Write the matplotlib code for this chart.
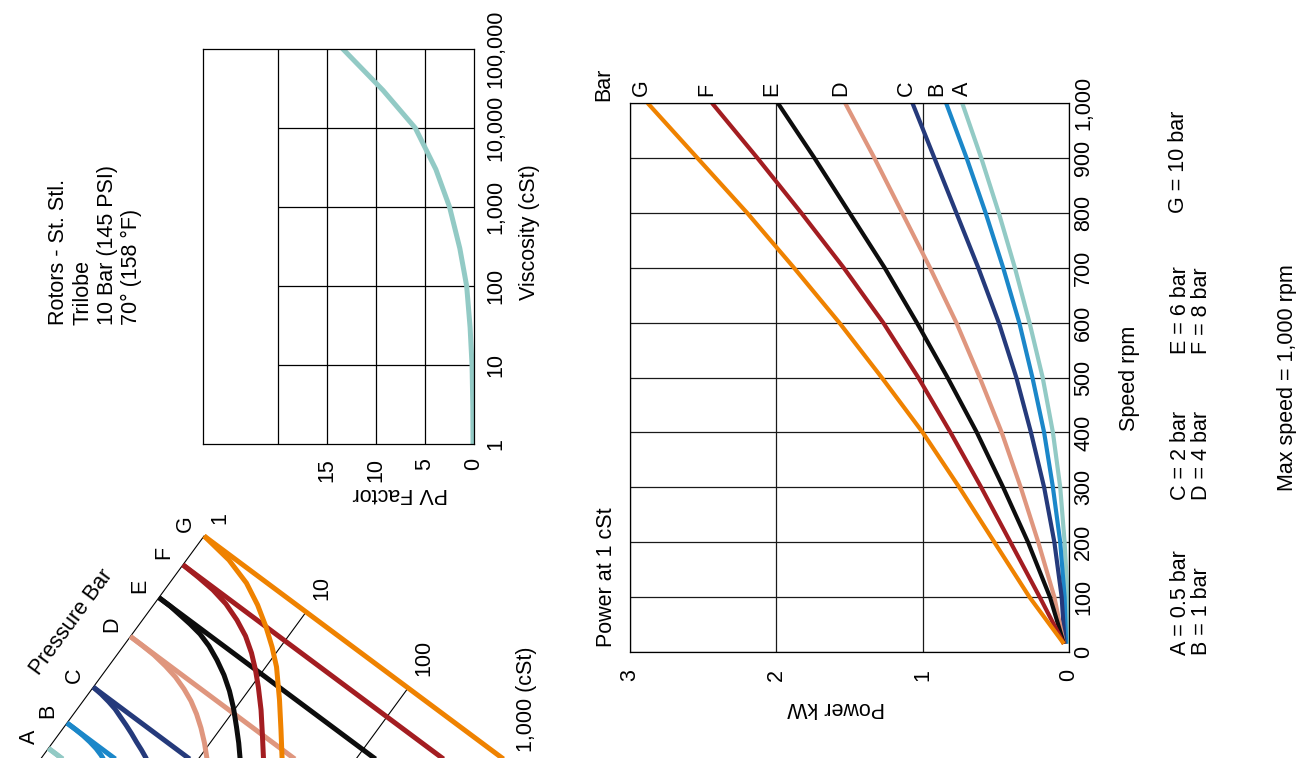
import numpy as np
import matplotlib.pyplot as plt
from matplotlib.transforms import Affine2D
from matplotlib.ticker import NullLocator

plt.rcParams['font.family'] = ['Liberation Sans', 'DejaVu Sans']
plt.rcParams['font.size'] = 15.5

W, H = 1296, 758

# --- series: pressure classes ---
letters = ['A', 'B', 'C', 'D', 'E', 'F', 'G']
pressure_bar = [0.5, 1, 2, 4, 6, 8, 10]
colors = ['#92cac5', '#1b87c9', '#253a7b', '#df967e', '#0d0d0d', '#a31d21', '#ef8200']

# --- power at 1 cSt (kW) vs speed (rpm) ---
speed = [15, 100, 200, 300, 400, 500, 600, 700, 800, 900, 1000]
power_a = [0.01, 0.01, 0.03, 0.06, 0.11, 0.18, 0.27, 0.37, 0.48, 0.60, 0.73]
power_b = [0.02, 0.03, 0.06, 0.11, 0.17, 0.25, 0.34, 0.45, 0.57, 0.70, 0.84]
power_c = [0.03, 0.05, 0.10, 0.17, 0.26, 0.36, 0.48, 0.62, 0.77, 0.92, 1.07]
power_d = [0.035, 0.10, 0.21, 0.33, 0.46, 0.61, 0.77, 0.95, 1.14, 1.33, 1.53]
power_e = [0.035, 0.13, 0.28, 0.45, 0.63, 0.83, 1.04, 1.26, 1.50, 1.74, 1.99]
power_f = [0.035, 0.20, 0.40, 0.60, 0.81, 1.03, 1.27, 1.54, 1.83, 2.13, 2.44]
power_g = [0.035, 0.27, 0.51, 0.75, 1.00, 1.28, 1.57, 1.88, 2.20, 2.54, 2.88]
power = [power_a, power_b, power_c, power_d, power_e, power_f, power_g]

# --- PV factor vs viscosity ---
pv_visc = [1, 3, 10, 30, 100, 300, 1000, 3000, 10000, 30000, 100000]
pv_factor = [0.1, 0.12, 0.2, 0.4, 0.75, 1.45, 2.5, 3.9, 6.0, 9.3, 13.4]
visc_ticks = [1, 10, 100, 1000, 10000, 100000]
visc_labels = ['1', '10', '100', '1,000', '10,000', '100,000']

# --- pressure / viscosity nomogram curves (cSt, bar) ---
curve_visc = [[1, 1.19, 1.39, 1.96],
              [1, 1.20, 1.44, 1.71, 2.01, 2.31, 2.55, 3.95],
              [1, 1.21, 1.46, 1.74, 2.05, 2.42, 2.87, 3.38, 3.96, 4.61, 7.40],
              [1, 1.30, 1.72, 2.29, 2.98, 3.84, 4.83, 6.02, 7.46, 9.22, 11.2, 16.3],
              [1, 1.29, 1.64, 2.09, 2.69, 3.49, 4.55, 5.92, 7.61, 9.68, 12.4, 15.2, 18.2, 26.2],
              [1, 1.42, 2.03, 2.85, 3.97, 5.34, 6.99, 8.89, 11.1, 14.8, 19.7, 25.6, 36.6],
              [1, 1.86, 3.07, 4.57, 6.54, 8.85, 11.7, 17.4, 24.5, 33.6, 48]]
curve_bar = [[0.5, 0.4997, 0.497, 0.43],
             [1, 0.999, 0.991, 0.972, 0.943, 0.903, 0.864, 0.562],
             [2, 1.978, 1.937, 1.883, 1.803, 1.726, 1.640, 1.550, 1.472, 1.389, 0.979],
             [4, 3.995, 3.973, 3.90, 3.796, 3.633, 3.442, 3.20, 2.921, 2.613, 2.304, 1.664],
             [6, 5.996, 5.94, 5.883, 5.791, 5.602, 5.32, 4.989, 4.599, 4.161, 3.665, 3.266, 2.897, 2.164],
             [8, 7.961, 7.885, 7.704, 7.38, 6.996, 6.51, 5.985, 5.457, 4.744, 3.998, 3.36, 2.557],
             [10, 9.74, 9.28, 8.67, 7.99, 7.35, 6.69, 5.55, 4.58, 3.75, 2.90]]
nomo_visc_ticks = [1, 10, 100, 1000]
nomo_visc_labels = ['1', '10', '100', '1,000 (cSt)']

fig = plt.figure(figsize=(W / 100, H / 100), dpi=100)


def px_axes(x0, y0, x1, y1):
    return fig.add_axes([x0 / W, 1 - y1 / H, (x1 - x0) / W, (y1 - y0) / H])


# full-page layer in pixel coordinates (page is printed sideways)
bg = fig.add_axes([0, 0, 1, 1])
bg.set_xlim(0, W)
bg.set_ylim(H, 0)
bg.axis('off')

# nomogram: u = sqrt(bar) along the pressure axis, v = log10(cSt) along the lines
nomo = Affine2D(np.array([[63.4, 102.0, 3.6],
                          [-86.5, 76.0, 809.5],
                          [0, 0, 1]])) + bg.transData
u_top = np.sqrt(max(pressure_bar))
bg.plot([u_top, 0], [0, 0], transform=nomo, color='k', lw=0.8)
for v in nomo_visc_ticks[1:3]:
    bg.plot([u_top, 0], [np.log10(v), np.log10(v)], transform=nomo, color='k', lw=0.8)
for i, p in enumerate(pressure_bar):
    u = np.sqrt(p)
    bg.plot([u, u], [0, 3], transform=nomo, color=colors[i], lw=3.6, solid_capstyle='butt')
    bg.plot(np.sqrt(curve_bar[i]), np.log10(curve_visc[i]), transform=nomo,
            color=colors[i], lw=3.6, solid_capstyle='butt', solid_joinstyle='round')
    bg.annotate(letters[i], xy=(u, 0), xycoords=nomo, xytext=(-19, 12),
                textcoords='offset pixels', rotation=90, ha='center', va='center')
for v, lbl in zip(nomo_visc_ticks, nomo_visc_labels):
    bg.annotate(lbl, xy=(u_top, np.log10(v)), xycoords=nomo, xytext=(16, 12),
                textcoords='offset pixels', rotation=90, rotation_mode='anchor',
                ha='left', va='center')
bg.text(72, 622, 'Pressure Bar', rotation=np.degrees(np.arctan2(86.5, 63.4)),
        ha='center', va='center')

# page texts
bg.text(95, 325, 'Rotors - St. Stl.\nTrilobe\n10 Bar (145 PSI)\n70° (158 °F)',
        rotation=90, rotation_mode='anchor', ha='left', va='center', linespacing=1.2)
bg.text(240, 408, 'Total Power =\n(PV x rpm)/10,000 + kW (1 cSt)',
        rotation=90, rotation_mode='anchor', ha='left', va='center', linespacing=1.2)
bg.text(400, 493, 'PV Factor', rotation=180, ha='center', va='center')
bg.text(530, 232, 'Viscosity (cSt)', rotation=90, ha='center', va='center')
bg.text(604, 101, 'Bar', rotation=90, rotation_mode='anchor', ha='left', va='center')
bg.text(606, 647, 'Power at 1 cSt', rotation=90, rotation_mode='anchor', ha='left', va='center')
bg.text(836, 707, 'Power kW', rotation=180, ha='center', va='center')
bg.text(1130, 378, 'Speed rpm', rotation=90, ha='center', va='center')
legend_blocks = ['A = 0.5 bar\nB = 1 bar', 'C = 2 bar\nD = 4 bar',
                 'E = 6 bar\nF = 8 bar', 'G = 10 bar']
for txt, y0 in zip(legend_blocks, [655, 500, 354, 213]):
    x0 = 1191 if '\n' in txt else 1179
    bg.text(x0, y0, txt, rotation=90, rotation_mode='anchor', ha='left', va='center',
            linespacing=1.05)
bg.text(1288, 378, 'Max speed = 1,000 rpm', rotation=90, ha='center', va='center')

# --- PV factor chart ---
pv = px_axes(203, 49, 474, 444)
pv.set_yscale('log')
pv.set_xlim(27.7, 0)
pv.set_ylim(1, 100000)
for x in [5, 10, 15, 20]:
    pv.axvline(x, color='k', lw=0.9)
pv.hlines(visc_ticks[1:-1], 0, 20, color='k', lw=0.9)
pv.plot(pv_factor, pv_visc, color='#92cac5', lw=3.6, solid_joinstyle='round')
pv.set_xticks([0, 5, 10, 15])
pv.set_xticklabels(['0', '5', '10', '15'], rotation=90)
pv.yaxis.tick_right()
pv.set_yticks(visc_ticks)
pv.set_yticklabels(visc_labels, rotation=90, va='center')
pv.yaxis.set_minor_locator(NullLocator())
pv.tick_params(axis='x', length=0, pad=10)
pv.tick_params(axis='y', length=0, pad=8)
for s in pv.spines.values():
    s.set_linewidth(0.9)

# --- power chart ---
ax = px_axes(630, 103, 1069, 652)
ax.set_xlim(3, 0)
ax.set_ylim(0, 1000)
ax.set_xticks([0, 1, 2, 3])
ax.set_xticklabels(['0', '1', '2', '3'], rotation=90)
ax.yaxis.tick_right()
ax.set_yticks(range(0, 1001, 100))
ax.set_yticklabels([f'{s:,}' for s in range(0, 1001, 100)], rotation=90, va='center')
ax.grid(True, color='#1a1a1a', lw=0.9)
ax.tick_params(axis='x', length=0, pad=12)
ax.tick_params(axis='y', length=0, pad=3)
for s in ax.spines.values():
    s.set_linewidth(0.9)
label_dx = [0, -9, -6, -4, -6, -5, -6]
for i in range(len(letters)):
    ax.plot(power[i], speed, color=colors[i], lw=3, solid_capstyle='butt',
            solid_joinstyle='round')
    ax.annotate(letters[i], xy=(power[i][-1], 1000), xytext=(label_dx[i], 7),
                textcoords='offset pixels', rotation=90, ha='center', va='bottom',
                annotation_clip=False)

fig.savefig('out.png', dpi=100)
